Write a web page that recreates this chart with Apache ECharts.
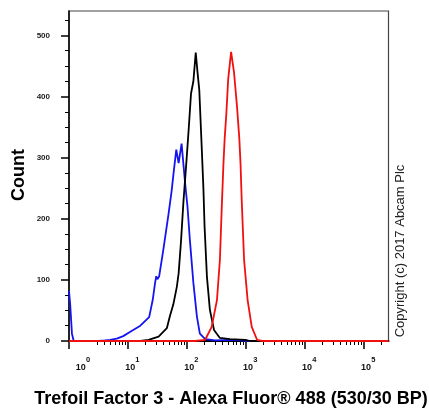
<!DOCTYPE html>
<html>
<head>
<meta charset="utf-8">
<script src="https://cdn.jsdelivr.net/npm/echarts@6/dist/echarts.min.js"></script>
<style>
html,body{margin:0;padding:0;background:#fff;}
#chart{width:429px;height:412px;}
</style>
</head>
<body>
<div id="chart"></div>
<script>
// x values are log10(fluorescence) in decades; y values are event counts
var blueData = [[0,82],[0.02,60],[0.05,12],[0.08,0],[0.5,0],[0.61,1],[0.7,2],[0.81,4],[0.92,8],[1.04,15],[1.21,25],[1.36,39],[1.42,67],[1.46,95],[1.48,106],[1.50,101],[1.53,106],[1.60,149],[1.69,209],[1.74,245],[1.78,280],[1.82,313],[1.86,291],[1.91,323],[1.97,258],[2.01,220],[2.05,166],[2.11,95],[2.17,40],[2.22,12],[2.31,3],[2.48,1],[2.73,2],[2.90,1],[3.07,0],[5.42,0]];
var blackData = [[0,0],[1.21,0],[1.35,2],[1.52,7],[1.66,21],[1.71,40],[1.77,60],[1.83,89],[1.86,111],[1.90,163],[1.94,226],[1.99,291],[2.03,346],[2.07,405],[2.11,425],[2.15,472],[2.18,440],[2.21,411],[2.25,320],[2.28,250],[2.30,187],[2.34,105],[2.39,51],[2.46,18],[2.56,5],[2.73,3],[2.99,2],[3.07,0],[5.42,0]];
var redData = [[0,0],[2.14,0],[2.31,2],[2.42,23],[2.51,67],[2.56,133],[2.59,215],[2.62,290],[2.64,330],[2.67,373],[2.70,428],[2.75,473],[2.80,439],[2.85,384],[2.89,330],[2.91,290],[2.93,230],[2.97,133],[3.03,67],[3.10,23],[3.19,2],[3.28,0],[5.42,0]];

var xMajorTicks = [0,1,2,3,4,5];
var xTickExponents = ['0','1','2','3','4','5'];
var xMinorTicks = [];
(function(){
  var ks=[2,3,4,5,6,7,8,9];
  for (var d=0; d<=5; d++) {
    for (var i=0;i<ks.length;i++){
      if (d===0 && ks[i]===2) continue;
      var v = d + Math.log10(ks[i]);
      if (v < 5.42) xMinorTicks.push(v);
    }
  }
})();
var yMajorTicks = [0,100,200,300,400,500];
var yMinorTicks = [25,50,75,125,150,175,225,250,275,325,350,375,425,450,475,525];
var xMin = 0, xMax = 5.42, yMin = 0, yMax = 540;

var FONT = 'Liberation Sans, Arial, sans-serif';
var chart = echarts.init(document.getElementById('chart'));
chart.setOption({
  animation: false,
  grid: {left: 69, right: 40.5, top: 11, bottom: 71, show: true, borderColor: '#444', borderWidth: 1.2, backgroundColor: 'transparent'},
  xAxis: [{
    type: 'value', min: xMin, max: xMax, position: 'bottom',
    splitLine: {show: false},
    axisLine: {show: true, lineStyle: {color: '#000', width: 2}},
    axisTick: {show: true, inside: false, length: 8, lineStyle: {color: '#000', width: 1.5}, customValues: xMajorTicks},
    axisLabel: {
      show: true, margin: 14.5, customValues: xMajorTicks,
      formatter: function (v) {
        var idx = xMajorTicks.indexOf(Math.round(v));
        var lead = idx === 0 ? 'L0' : 'L';
        var lead2 = idx === 0 ? 'M0' : 'M';
        return '{' + lead + '|}{e|}{s|' + xTickExponents[idx] + '}\n{' + lead2 + '|}{b|10}{e2|}';
      },
      rich: {
        L: {width: 9, height: 8, lineHeight: 8},
        L0: {width: 28, height: 8, lineHeight: 8},
        M: {width: 9, height: 9, lineHeight: 9},
        M0: {width: 28, height: 9, lineHeight: 9},
        e: {width: 10, height: 8, lineHeight: 8},
        e2: {width: 4.5, height: 9, lineHeight: 9},
        b: {width: 10, fontSize: 9, fontWeight: 'bold', fontFamily: FONT, color: '#111', lineHeight: 9, height: 9},
        s: {width: 4.5, fontSize: 7.5, fontWeight: 'bold', fontFamily: FONT, color: '#111', lineHeight: 8, height: 8}
      }
    }
  }, {
    type: 'value', min: xMin, max: xMax, position: 'bottom',
    splitLine: {show: false},
    axisLine: {show: false},
    axisLabel: {show: false},
    axisTick: {show: true, inside: false, length: 4, lineStyle: {color: '#000', width: 1}, customValues: xMinorTicks}
  }],
  yAxis: [{
    type: 'value', min: yMin, max: yMax, position: 'left',
    splitLine: {show: false},
    axisLine: {show: true, lineStyle: {color: '#000', width: 1.5}},
    axisTick: {show: true, inside: false, length: 8, lineStyle: {color: '#000', width: 1.5}, customValues: yMajorTicks},
    axisLabel: {show: true, margin: 19, customValues: yMajorTicks, fontSize: 8, fontWeight: 'bold', fontFamily: FONT, color: '#222'}
  }, {
    type: 'value', min: yMin, max: yMax, position: 'left',
    splitLine: {show: false},
    axisLine: {show: false},
    axisLabel: {show: false},
    axisTick: {show: true, inside: false, length: 4, lineStyle: {color: '#000', width: 1}, customValues: yMinorTicks}
  }],
  series: [
    {type: 'line', data: blueData, xAxisIndex: 0, yAxisIndex: 0, showSymbol: false, symbol: 'none', lineStyle: {color: '#1414f0', width: 1.8}, z: 3},
    {type: 'line', data: blackData, xAxisIndex: 0, yAxisIndex: 0, showSymbol: false, symbol: 'none', lineStyle: {color: '#000000', width: 1.8}, z: 4},
    {type: 'line', data: redData, xAxisIndex: 0, yAxisIndex: 0, showSymbol: false, symbol: 'none', lineStyle: {color: '#f01010', width: 1.8}, z: 5}
  ],
  graphic: [
    {type: 'text', x: 19, y: 175, rotation: Math.PI / 2, style: {text: 'Count', font: 'bold 18px ' + FONT, fill: '#000', align: 'center', verticalAlign: 'middle'}},
    {type: 'text', x: 231, y: 399, style: {text: 'Trefoil Factor 3 - Alexa Fluor® 488 (530/30 BP)', font: 'bold 18px ' + FONT, fill: '#000', align: 'center', verticalAlign: 'middle'}},
    {type: 'text', x: 400, y: 251, rotation: Math.PI / 2, style: {text: 'Copyright (c) 2017 Abcam Plc', font: '13px ' + FONT, fill: '#222', align: 'center', verticalAlign: 'middle'}}
  ]
});
</script>
</body>
</html>
